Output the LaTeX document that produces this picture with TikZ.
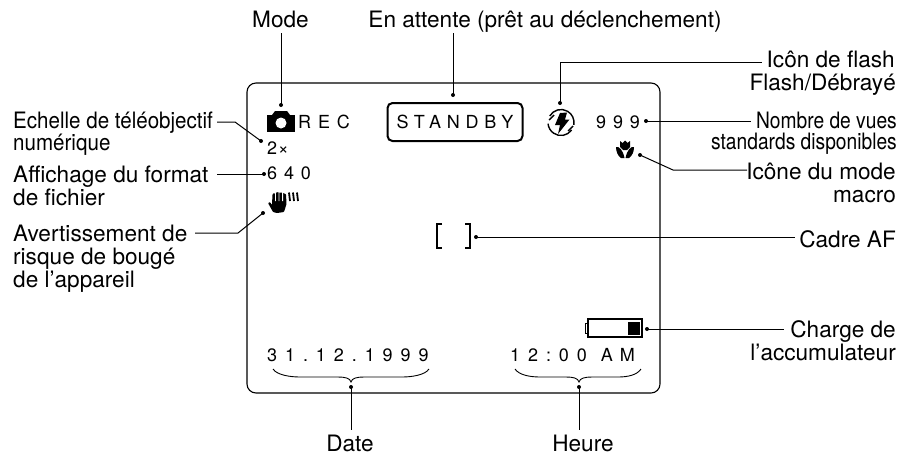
\documentclass[tikz,border=0pt]{standalone}
\usepackage{fontspec}
\setmainfont{TeX Gyre Heros}
\newfontfamily\dispfont[LetterSpace=38]{TeX Gyre Heros}
\newfontfamily\standfont[LetterSpace=32]{TeX Gyre Heros}
\newfontfamily\datefont[LetterSpace=44]{TeX Gyre Heros}
\tikzset{
  lead/.style={draw=black,line width=1pt},
  ldot/.style={circle,fill=black,inner sep=0pt,minimum size=4pt},
  lab/.style={inner sep=0pt,font=\fontsize{22.6}{26}\selectfont},
  labl/.style={lab,align=left,anchor=base west},
  labr/.style={lab,align=right,anchor=base east},
  disp/.style={inner sep=0pt,font=\fontsize{18}{20}\dispfont,anchor=base west},
  dispd/.style={inner sep=0pt,font=\fontsize{18}{20}\datefont,anchor=base west},
}
\begin{document}
\begin{tikzpicture}[x=1pt,y=-1pt]
\useasboundingbox (0,0) rectangle (901,456);
% frame
\draw[line width=1.1pt,rounded corners=9pt] (247,83) rectangle (660,393);
% top labels
\node[lab,anchor=base] (mode) at (280.5,27) {Mode};
\node[lab,anchor=base] (attente) at (545,27) {En attente (prêt au déclenchement)};
\node[labr] (flasha) at (895,67) {Icôn de flash};
\node[labr] (flashb) at (896,90) {Flash/Débrayé};
\node[labr] (nombrea) at (897,128) {\scalebox{.85}[1]{Nombre de vues}};
\node[labr] (nombreb) at (897,149) {\scalebox{.85}[1]{standards disponibles}};
\node[labr] (macroa) at (896,179) {Icône du mode};
\node[labr] (macrob) at (896,202) {macro};
\node[labr] (cadre) at (896,247) {Cadre AF};
\node[labr] (chargea) at (896,337) {Charge de};
\node[labr] (chargeb) at (896,360) {l’accumulateur};
\node[labl] (echellea) at (13,128) {\scalebox{.91}[1]{Echelle de téléobjectif}};
\node[labl] (echelleb) at (13,150) {\scalebox{.91}[1]{numérique}};
\node[labl] (formata) at (13,182) {Affichage du format};
\node[labl] (formatb) at (13,205) {de fichier};
\node[labl] (risquea) at (13,241) {Avertissement de};
\node[labl] (risqueb) at (13,264) {risque de bougé};
\node[labl] (risquec) at (13,287) {de l’appareil};
\node[lab,anchor=base] (datel) at (350,451) {Date};
\node[lab,anchor=base] (heurel) at (583,451) {Heure};
% display texts
\node[disp] (rec) at (298,128) {REC};
\node[disp] (zoomv) at (267,154) {2\hspace{-2pt}\raisebox{-.5pt}{\,×}};
\node[disp] (fmt) at (267,179) {640};
\node[draw,line width=2pt,rounded corners=5pt,minimum width=135pt,minimum height=38pt,inner sep=0pt,font=\fontsize{18}{20}\standfont] (standby) at (455,122) {STANDBY};
\node[disp] (cnt) at (596,128) {999};
\node[dispd] (datev) at (267,361) {31.12.1999};
\node[dispd] (timev) at (510,361) {12:00\hspace{14pt}\dispfont AM};
% camera icon
\fill (267,115) rectangle (295,132);
\fill (272,115) -- (275,111) -- (287,111) -- (290,115) -- cycle;
\fill[white] (281,123) circle (5.5);
% hand icon
\begin{scope}[shift={(268,192)}]
\fill[rounded corners=.8pt] (0,11) -- (2,10) -- (4,13) -- (4.5,2) -- (6,1) -- (7,2) -- (8,.5) -- (10,0) -- (11,1) -- (12,.5) -- (14,.5) -- (15,1) -- (16,1.5) -- (18,2) -- (18.5,12) -- (16,20) -- (9,21) -- (5,20) -- cycle;
\fill[white] (7,0) rectangle (7.8,9) (10.6,0) rectangle (11.4,9) (14.2,0) rectangle (15,9);
\draw[line width=1.8pt] (21,.5) -- (22,9) (25,.5) -- (26,9) (29,.5) -- (30,9);
\end{scope}
% flash icon
\draw[line width=1.4pt] (561,122.5) ++(-150:13) arc (-150:10:13);
\draw[line width=1.4pt] (561,122.5) ++(35:13) arc (35:175:13);
\draw[line width=1.4pt] (573,126) -- (568,131) (549,120) -- (554,115);
\fill (560,113) -- (567,112.5) -- (565,119.5) -- (569.5,119.5) -- (558,134) -- (560,125) -- (555,125) -- cycle;
% macro icon
\begin{scope}[shift={(616,140)}]
\fill (4,1) -- (6.5,3) -- (9,0.5) -- (11.5,3) -- (14,1) -- (14,7) -- (11,10) -- (7,10) -- (4,7) -- cycle;
\fill (0,7) .. controls (3,6) and (7,10) .. (8.5,18) -- (5,18) .. controls (2,16) and (0,12) .. (0,7) -- cycle;
\fill (18,7) .. controls (15,6) and (11,10) .. (9.5,18) -- (13,18) .. controls (16,16) and (18,12) .. (18,7) -- cycle;
\end{scope}
% brackets
\draw[line width=2.4pt] (442,224) -- (437.2,224) -- (437.2,248) -- (442,248);
\draw[line width=2.4pt] (465,224) -- (469.8,224) -- (469.8,248) -- (465,248);
% battery
\draw[line width=1.4pt] (588,319) rectangle (642,337);
\draw[line width=1pt] (588,323) -- (585,323) -- (585,333) -- (588,333);
\fill (628,322) rectangle (640,335);
% braces
\draw[line width=.9pt] (273,369) .. controls (277,375) and (290,377) .. (300,377) -- (338,377) .. controls (345,377) and (350,378) .. (351,382) .. controls (352,378) and (357,377) .. (364,377) -- (402,377) .. controls (412,377) and (425,375) .. (429,369);
\draw[line width=.9pt] (515,369) .. controls (519,375) and (530,377) .. (540,377) -- (566,377) .. controls (573,377) and (578,378) .. (579,382) .. controls (580,378) and (585,377) .. (592,377) -- (618,377) .. controls (628,377) and (637,375) .. (641,369);
% dots
\node[ldot] (dmode) at (281,105) {};
\node[ldot] (dstand) at (453,95) {};
\node[ldot] (dflash) at (560,103) {};
\node[ldot] (dcnt) at (646,121) {};
\node[ldot] (dmacro) at (640,155) {};
\node[ldot] (daf) at (476,237) {};
\node[ldot] (dbat) at (647,329) {};
\node[ldot] (ddate) at (351,387) {};
\node[ldot] (dheure) at (579,387) {};
\node[ldot] (dech) at (261,141) {};
\node[ldot] (dfmt) at (264,174) {};
\node[ldot] (dris) at (263,213) {};
% leaders
\draw[lead] (dmode.center) -- (281,33);
\draw[lead] (dstand.center) -- (453,33);
\draw[lead] (dflash.center) -- (560,62) -- (762,62);
\draw[lead] (dcnt.center) -- (751,121);
\draw[lead] (dmacro.center) -- (673,170) -- (747,170);
\draw[lead] (daf.center) -- (795,237);
\draw[lead] (dbat.center) -- (784,329);
\draw[lead] (ddate.center) -- (351,430);
\draw[lead] (dheure.center) -- (579,430);
\draw[lead] (dech.center) -- (235,122) -- (217,122);
\draw[lead] (dfmt.center) -- (217,174);
\draw[lead] (dris.center) -- (238,233) -- (195,233);
\end{tikzpicture}
\end{document}
